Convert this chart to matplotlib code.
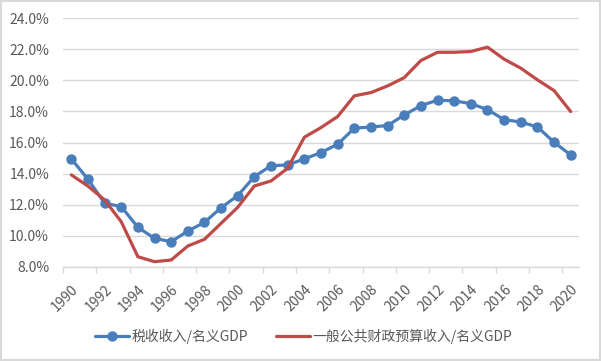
import numpy as np
import matplotlib
matplotlib.use("Agg")
import matplotlib.pyplot as plt
from matplotlib.ticker import FuncFormatter, FixedLocator
from matplotlib.patches import Rectangle

plt.rcParams['font.family'] = ['Noto Sans CJK SC', 'DejaVu Sans']

years = list(range(1990, 2021))
tax_ratio = [14.95, 13.64, 12.10, 11.88, 10.55, 9.84, 9.63, 10.31, 10.87, 11.81,
             12.59, 13.81, 14.51, 14.56, 14.95, 15.35, 15.89, 16.92, 17.00, 17.09,
             17.77, 18.37, 18.72, 18.68, 18.50, 18.12, 17.47, 17.32, 17.00, 16.02,
             15.20]
budget_ratio = [13.92, 13.20, 12.31, 10.91, 8.66, 8.34, 8.45, 9.35, 9.78, 10.81,
                11.84, 13.21, 13.53, 14.35, 16.34, 16.96, 17.67, 19.00, 19.21, 19.64,
                20.17, 21.27, 21.80, 21.80, 21.85, 22.13, 21.36, 20.78, 20.03, 19.34,
                17.99]
tax_label = '税收收入/名义GDP'
budget_label = '一般公共财政预算收入/名义GDP'

blue = '#4A7EBB'
red = '#BE4B48'
grey_txt = '#595959'
grid_c = '#D9D9D9'

fig = plt.figure(figsize=(6.01, 3.61), dpi=100)
ax = fig.add_axes([0.1048, 0.2604, 0.8586, 0.6896])

x = np.arange(len(years))
ax.plot(x, tax_ratio, color=blue, lw=2.3, marker='o', ms=6.5, label=tax_label,
        solid_capstyle='round', zorder=3)
ax.plot(x, budget_ratio, color=red, lw=2.3, label=budget_label,
        solid_capstyle='round', zorder=3)

ax.set_xlim(-0.5, len(years) - 0.5)
ax.set_ylim(8, 24)
ax.set_yticks(np.arange(8, 25, 2))
ax.yaxis.set_major_formatter(FuncFormatter(lambda v, p: f'{v:.1f}%'))
ax.grid(axis='y', color=grid_c, lw=1)
ax.set_axisbelow(True)

ax.set_xticks(x[::2])
ax.set_xticklabels([str(y) for y in years[::2]], rotation=45, ha='right',
                   va='top', rotation_mode='anchor')
ax.xaxis.set_minor_locator(FixedLocator(np.arange(-0.5, len(years), 2)))
ax.tick_params(axis='x', which='major', length=0, pad=11, labelsize=10,
               labelcolor=grey_txt)
ax.tick_params(axis='x', which='minor', length=4, color=grid_c, width=1)
ax.tick_params(axis='y', length=0, pad=10, labelsize=10, labelcolor=grey_txt)

for s in ['top', 'right', 'left']:
    ax.spines[s].set_visible(False)
ax.spines['bottom'].set_color(grid_c)
ax.spines['bottom'].set_linewidth(1)

fig.legend(loc='center', bbox_to_anchor=(0.505, 0.069), ncol=2, frameon=False,
           fontsize=10, handlelength=2.45, handletextpad=0.2,
           columnspacing=2.0, labelcolor=grey_txt)

fig.patches.append(Rectangle((0.001, 0.002), 0.997, 0.995, transform=fig.transFigure,
                             fill=False, edgecolor=grid_c, lw=1.5))

fig.savefig('out.png', dpi=100)
